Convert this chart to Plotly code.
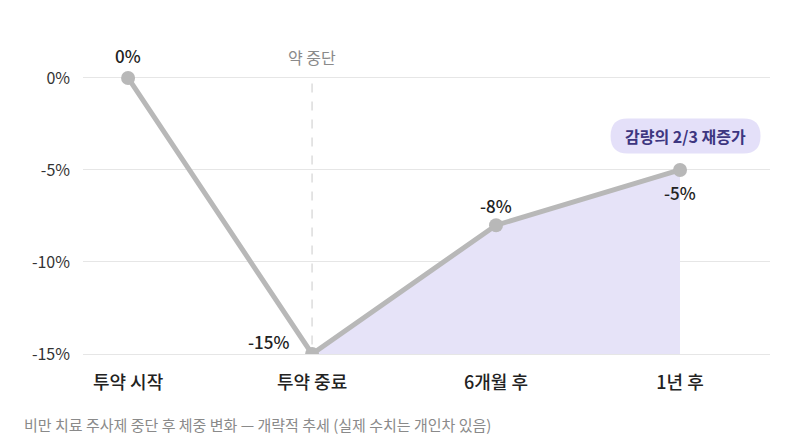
import plotly.graph_objects as go

# data
stages = ['투약 시작', '투약 중료', '6개월 후', '1년 후']
change = [0, -15, -8, -5]
point_labels = ['0%', '-15%', '-8%', '-5%']
y_ticks = [0, -5, -10, -15]
y_ticktext = ['0%', '-5%', '-10%', '-15%']

FONT = 'Noto Sans CJK KR'
LINE = '#b8b8b8'
FILL = '#e6e3f8'

xs = list(range(len(stages)))

fig = go.Figure()

# baseline for shaded regain area
fig.add_trace(go.Scatter(x=xs[1:], y=[-15] * 3, mode='lines',
                         line=dict(width=0, color=FILL), hoverinfo='skip', showlegend=False))
fig.add_trace(go.Scatter(x=xs[1:], y=change[1:], mode='lines', fill='tonexty',
                         fillcolor=FILL, line=dict(width=0), hoverinfo='skip', showlegend=False))

# main line
fig.add_trace(go.Scatter(x=xs, y=change, mode='lines+markers',
                         line=dict(color=LINE, width=5),
                         marker=dict(color=LINE, size=14),
                         showlegend=False))

# point labels
label_anchor = ['center', 'right', 'center', 'center']
label_shift = [(0, 22), (-21, 13), (0, 20), (0, -23)]
for i, t in enumerate(point_labels):
    dx, dy = label_shift[i]
    fig.add_annotation(x=xs[i], y=change[i], text=t, showarrow=False,
                       xshift=dx, yshift=dy, xanchor=label_anchor[i],
                       font=dict(family=FONT, size=17, color='#222222', weight=500))

# drug stopped marker
fig.add_shape(type='line', x0=1, x1=1, y0=-0.3, y1=-15, xref='x', yref='y',
              line=dict(color='#d4d4d4', width=1.2, dash='dash'), layer='below')
fig.add_annotation(x=1, y=0, yshift=21, text='약 중단', showarrow=False,
                   font=dict(family=FONT, size=16, color='#8a8a8a'))

# pill callout
cx, cy, w, h = 3.03, -3.15, 0.815, 1.9
rx = 0.092
x0, x1, y0, y1 = cx - w / 2, cx + w / 2, cy - h / 2, cy + h / 2
path = (f'M {x0+rx},{y1} L {x1-rx},{y1} Q {x1},{y1} {x1},{cy} Q {x1},{y0} {x1-rx},{y0} '
        f'L {x0+rx},{y0} Q {x0},{y0} {x0},{cy} Q {x0},{y1} {x0+rx},{y1} Z')
fig.add_shape(type='path', path=path, xref='x', yref='y',
              fillcolor='#e4e0f9', line=dict(width=0))
fig.add_annotation(x=cx, y=cy, text='감량의 2/3 재증가', showarrow=False,
                   font=dict(family=FONT, size=16, color='#3d3680', weight=600))

# caption
fig.add_annotation(x=0, y=0, xref='paper', yref='paper', xanchor='left', yanchor='top',
                   xshift=-61, yshift=-58, text='비만 치료 주사제 중단 후 체중 변화 — 개략적 추세 (실제 수치는 개인차 있음)',
                   showarrow=False, font=dict(family=FONT, size=15, color='#8a8a8a'))

fig.update_xaxes(range=[-0.245, 3.489], tickvals=xs, ticktext=stages,
                 showgrid=False, zeroline=False, showline=True, linecolor='#e6e6e6',
                 ticks='', ticklabelstandoff=12,
                 tickfont=dict(family=FONT, size=18, color='#222222', weight=500))
fig.update_yaxes(range=[-15, 1.52], tickvals=y_ticks, ticktext=y_ticktext,
                 showgrid=True, gridcolor='#e6e6e6', gridwidth=1, zeroline=False,
                 ticks='', ticklabelstandoff=12,
                 tickfont=dict(family=FONT, size=16, color='#333333'))

fig.update_layout(width=800, height=447, plot_bgcolor='white', paper_bgcolor='white',
                  margin=dict(l=75, r=38, t=42, b=101), font=dict(family=FONT))

fig.write_html('out.html')
